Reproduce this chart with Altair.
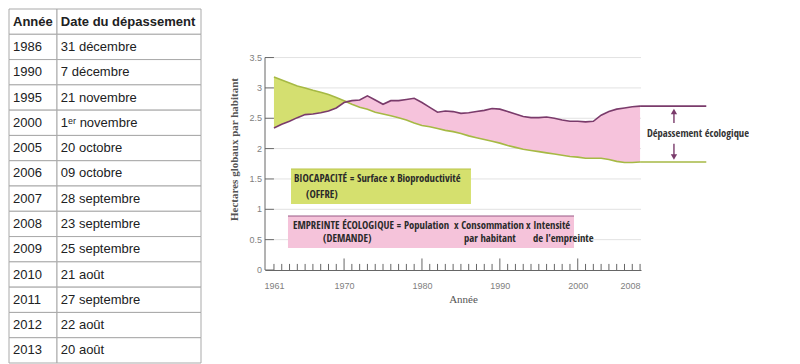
import altair as alt
import pandas as pd

# ---------------- Table data ----------------
table_header = ["Année", "Date du dépassement"]
table_years = ["1986", "1990", "1995", "2000", "2005", "2006", "2007",
               "2008", "2009", "2010", "2011", "2012", "2013"]
table_dates = ["31 décembre", "7 décembre", "21 novembre", "1ᵉʳ novembre",
               "20 octobre", "09 octobre", "28 septembre", "23 septembre",
               "25 septembre", "21 août", "27 septembre", "22 août", "20 août"]

# ---------------- Chart data ----------------
years = list(range(1961, 2009))
footprint = [2.34, 2.40, 2.45, 2.51, 2.56, 2.57, 2.59, 2.62, 2.67, 2.76,
             2.79, 2.80, 2.87, 2.80, 2.73, 2.79, 2.79, 2.81, 2.83, 2.76,
             2.68, 2.60, 2.62, 2.61, 2.58, 2.59, 2.61, 2.63, 2.66, 2.65,
             2.61, 2.57, 2.53, 2.51, 2.51, 2.52, 2.50, 2.47, 2.45, 2.45,
             2.44, 2.45, 2.55, 2.61, 2.65, 2.67, 2.69, 2.70]
biocapacity = [3.18, 3.13, 3.08, 3.03, 3.00, 2.96, 2.93, 2.89, 2.84, 2.79,
               2.73, 2.68, 2.65, 2.60, 2.57, 2.54, 2.51, 2.47, 2.42, 2.38,
               2.36, 2.33, 2.30, 2.28, 2.25, 2.21, 2.18, 2.15, 2.12, 2.09,
               2.05, 2.02, 1.99, 1.97, 1.95, 1.93, 1.91, 1.89, 1.87, 1.86,
               1.84, 1.84, 1.84, 1.82, 1.79, 1.77, 1.77, 1.78]

y_label_values = [0, 0.5, 1, 1.5, 2, 2.5, 3, 3.5]
x_label_years = [1961, 1970, 1980, 1990, 2000, 2008]
major_tick_years = [1970, 1980, 1990, 2000]

# ---------------- Styles ----------------
PURPLE = "#7a3b6b"
GREEN_LINE = "#a6b944"
GREEN_FILL = "#d4df70"
PINK_FILL = "#f6c3dc"
BOX_GREEN = "#d5e06e"
BOX_PINK = "#f5c3da"
AXIS_GRAY = "#666666"
GRID_GRAY = "#e2e2e2"
NARROW = ("Open Sans Condensed, Roboto Condensed, Liberation Sans Narrow, "
          "DejaVu Sans Condensed, Noto Sans Condensed, sans-serif")
SANS = "Liberation Sans, Arial, Helvetica, sans-serif"
SERIF = "Liberation Serif, Times New Roman, DejaVu Serif, serif"
NOTE_SIZE = 10.6

# ---------------- Table chart ----------------
T_W, T_H = 192, 354
n_rows = len(table_years) + 1
col_edges = [0.0, 0.25, 1.0]
col_text_x = [0.021, 0.27]

cell_rows = []
for r in range(n_rows):
    for c in range(2):
        cell_rows.append({"row": r, "x0": col_edges[c], "x1": col_edges[c + 1]})
cells = pd.DataFrame(cell_rows)

head_df = pd.DataFrame({"row": [0, 0], "tx": col_text_x, "label": table_header})
body_rows = []
for i, (yy, dd) in enumerate(zip(table_years, table_dates)):
    body_rows.append({"row": i + 1, "tx": col_text_x[0], "label": yy})
    body_rows.append({"row": i + 1, "tx": col_text_x[1], "label": dd})
body_df = pd.DataFrame(body_rows)

txs = alt.Scale(domain=[0, 1], nice=False, zero=False)
tys = alt.Scale(domain=list(range(n_rows)), paddingInner=0, paddingOuter=0)

t_cells = alt.Chart(cells).mark_rect(fill="white", stroke="#a9a9a9", strokeWidth=1).encode(
    x=alt.X("x0:Q", scale=txs, axis=None), x2="x1:Q",
    y=alt.Y("row:O", scale=tys, axis=None))
t_head = alt.Chart(head_df).mark_text(align="left", baseline="middle", font=SANS,
                                      fontSize=13, fontWeight="bold", color="#202122").encode(
    x=alt.X("tx:Q", scale=txs, axis=None), y=alt.Y("row:O", scale=tys, axis=None), text="label:N")
t_body = alt.Chart(body_df).mark_text(align="left", baseline="middle", font=SANS,
                                      fontSize=13, color="#202122").encode(
    x=alt.X("tx:Q", scale=txs, axis=None), y=alt.Y("row:O", scale=tys, axis=None), text="label:N")
table = alt.layer(t_cells, t_head, t_body).properties(width=T_W, height=T_H)

# ---------------- Main chart ----------------
W, H = 376, 261
X_MIN, X_MAX = 1959.85, 2008.12
Y_MAX = 4.30
EXT_END = 2016.5
xsc = alt.Scale(domain=[X_MIN, X_MAX], nice=False, zero=False)
ysc = alt.Scale(domain=[0, Y_MAX], nice=False, zero=False)

df = pd.DataFrame({"year": years, "fp": footprint, "bio": biocapacity})
base = alt.Chart(df).transform_calculate(top="max(datum.fp, datum.bio)")

x_axis = alt.Axis(values=x_label_years, format="d", ticks=False, grid=False,
                  labelOverlap=False, domainColor=AXIS_GRAY, domainWidth=1,
                  labelColor="#808080", labelFont=SANS, labelFontSize=9, labelPadding=11,
                  title="Année", titleFont=SERIF, titleFontSize=11,
                  titleFontWeight="normal", titleColor="#555555",
                  titleX=198, titleY=29, titleBaseline="middle", titleAlign="center")
y_axis = alt.Axis(ticks=False, grid=False, labels=False, domain=False,
                  title="Hectares globaux par habitant", titleFont=SERIF,
                  titleFontSize=11, titleFontWeight="bold", titleColor="#555555",
                  titleAngle=270, titleX=-31, titleY=140,
                  titleBaseline="middle", titleAlign="center")

# grid lines (this layer carries the axes)
grid_df = pd.DataFrame({"v": y_label_values[1:]})
grid_df["x0"] = years[0]
grid_df["x1"] = X_MAX
grid = alt.Chart(grid_df).mark_rule(color=GRID_GRAY, strokeWidth=1).encode(
    x=alt.X("x0:Q", scale=xsc, axis=x_axis), x2="x1:Q",
    y=alt.Y("v:Q", scale=ysc, axis=y_axis))

ytick_df = pd.DataFrame({"v": y_label_values})
ytick_df["x0"] = X_MIN
ytick_df["x1"] = years[0]
ytick_df["lab"] = [f"{v:g}" for v in y_label_values]
yticks = alt.Chart(ytick_df).mark_rule(color=AXIS_GRAY, strokeWidth=1).encode(
    x=alt.X("x0:Q", scale=xsc), x2="x1:Q", y=alt.Y("v:Q", scale=ysc))
ylabels = alt.Chart(ytick_df).mark_text(align="right", baseline="middle", dx=-3,
                                        font=SANS, fontSize=9, color="#808080").encode(
    x=alt.X("x0:Q", scale=xsc), y=alt.Y("v:Q", scale=ysc), text="lab:N")
yline_df = pd.DataFrame({"x": [X_MIN], "y0": [y_label_values[0]], "y1": [y_label_values[-1]]})
yline = alt.Chart(yline_df).mark_rule(color=AXIS_GRAY, strokeWidth=1).encode(
    x=alt.X("x:Q", scale=xsc), y=alt.Y("y0:Q", scale=ysc), y2="y1:Q")

# x ticks (pointing up)
xt_df = pd.DataFrame({"year": years})
xt_df["y0"] = 0.0
xt_df["tl"] = [0.19 if y in major_tick_years else 0.10 for y in years]
xticks = alt.Chart(xt_df).mark_rule(color=AXIS_GRAY, strokeWidth=1).encode(
    x=alt.X("year:Q", scale=xsc), y=alt.Y("y0:Q", scale=ysc), y2="tl:Q")

green_area = base.mark_area(color=GREEN_FILL, opacity=1).encode(
    x=alt.X("year:Q", scale=xsc), y=alt.Y("fp:Q", scale=ysc), y2="top:Q")
pink_area = base.mark_area(color=PINK_FILL, opacity=1).encode(
    x=alt.X("year:Q", scale=xsc), y=alt.Y("bio:Q", scale=ysc), y2="top:Q")

bio_line = base.mark_line(color=GREEN_LINE, strokeWidth=1.6).encode(
    x=alt.X("year:Q", scale=xsc), y=alt.Y("bio:Q", scale=ysc))
fp_line = base.mark_line(color=PURPLE, strokeWidth=1.6).encode(
    x=alt.X("year:Q", scale=xsc), y=alt.Y("fp:Q", scale=ysc))

# extension lines at the right
ext_df = pd.DataFrame({"x0": [years[-1], years[-1]], "x1": [EXT_END, EXT_END],
                       "v": [footprint[-1], biocapacity[-1]], "c": [PURPLE, GREEN_LINE]})
ext = alt.Chart(ext_df).mark_rule(strokeWidth=1.6).encode(
    x=alt.X("x0:Q", scale=xsc), x2="x1:Q",
    y=alt.Y("v:Q", scale=ysc), color=alt.Color("c:N", scale=None))

# arrows
ARROW_X = 2012.35
shaft_df = pd.DataFrame({"x": [ARROW_X, ARROW_X], "y0": [2.42, 1.88], "y1": [2.61, 2.08]})
shafts = alt.Chart(shaft_df).mark_rule(color=PURPLE, strokeWidth=1.4).encode(
    x=alt.X("x:Q", scale=xsc), y=alt.Y("y0:Q", scale=ysc), y2="y1:Q")
head_df2 = pd.DataFrame({"x": [ARROW_X, ARROW_X], "v": [2.61, 1.86],
                         "shape": ["triangle-up", "triangle-down"]})
heads = alt.Chart(head_df2).mark_point(filled=True, color=PURPLE, size=40, opacity=1).encode(
    x=alt.X("x:Q", scale=xsc), y=alt.Y("v:Q", scale=ysc),
    shape=alt.Shape("shape:N", scale=None))
overshoot_label = alt.Chart(pd.DataFrame({"x": [2015.43], "y": [2.24],
                                          "t": ["Dépassement écologique"]})).mark_text(
    font=NARROW, fontSize=10.5, fontWeight="bold", color="#333333", align="center",
    baseline="middle").encode(
    x=alt.X("x:Q", scale=xsc), y=alt.Y("y:Q", scale=ysc), text="t:N")

# annotation boxes
box_df = pd.DataFrame({"x0": [1963.19, 1962.80], "x1": [1986.29, 1999.52],
                       "y0": [1.087, 0.362], "y1": [1.664, 0.890],
                       "fill": [BOX_GREEN, BOX_PINK], "edge": ["#b9c449", "#9a5a86"]})
boxes = alt.Chart(box_df).mark_rect().encode(
    x=alt.X("x0:Q", scale=xsc), x2="x1:Q",
    y=alt.Y("y0:Q", scale=ysc), y2="y1:Q",
    fill=alt.Fill("fill:N", scale=None))
box_edges = alt.Chart(box_df).mark_rule(strokeWidth=1.2).encode(
    x=alt.X("x0:Q", scale=xsc), x2="x1:Q",
    y=alt.Y("y1:Q", scale=ysc), color=alt.Color("edge:N", scale=None))

box_text_df = pd.DataFrame({
    "x": [1963.57, 1965.11, 1963.44, 1984.11, 1993.35, 1967.30, 1985.40, 1994.25],
    "y": [1.50, 1.236, 0.718, 0.718, 0.718, 0.505, 0.505, 0.505],
    "t": ["BIOCAPACITÉ =  Surface x Bioproductivité", "(OFFRE)",
          "EMPREINTE ÉCOLOGIQUE = Population", "x Consommation", "x Intensité",
          "(DEMANDE)", "par habitant", "de l'empreinte"]})
box_text = alt.Chart(box_text_df).mark_text(
    font=NARROW, fontSize=NOTE_SIZE, fontWeight="bold", color="#2a2a2a", align="left",
    baseline="middle").encode(
    x=alt.X("x:Q", scale=xsc), y=alt.Y("y:Q", scale=ysc), text="t:N")

main = alt.layer(grid, yticks, ylabels, yline, green_area, pink_area, bio_line, fp_line,
                 xticks, ext, shafts, heads, overshoot_label, boxes, box_edges, box_text
                 ).properties(width=W, height=H)

chart = alt.hconcat(table, main, spacing=64, bounds="flush").properties(
    padding=0).configure_view(stroke=None)

chart.save("out.html", embed_options={"renderer": "svg", "actions": False})
